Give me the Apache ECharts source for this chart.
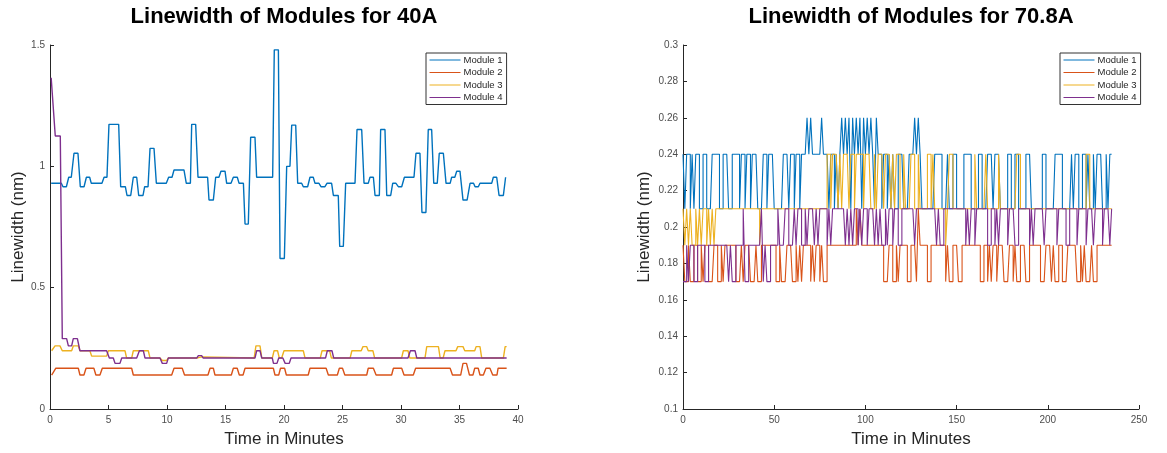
<!DOCTYPE html>
<html>
<head>
<meta charset="utf-8">
<script src="https://cdn.jsdelivr.net/npm/echarts@6/dist/echarts.min.js"></script>
<style>
html,body{margin:0;padding:0;background:#fff}
#chart{width:1167px;height:453px}
</style>
</head>
<body>
<div id="chart"></div>
<script>
var moduleNames = ['Module 1', 'Module 2', 'Module 3', 'Module 4'];
var moduleColors = ['#0072BD', '#D95319', '#EDB120', '#7E2F8E'];
var titles = ['Linewidth of Modules for 40A', 'Linewidth of Modules for 70.8A'];

// 40A run: [minute, linewidth nm] corner points
var m1_40 = [[0.1,0.93],[0.97,0.93],[1.11,0.916],[1.4,0.916],[1.6,0.955],[1.82,0.955],[2.05,1.054],[2.39,1.054],[2.59,0.916],[2.91,0.916],[3.11,0.955],[3.39,0.955],[3.53,0.93],[4.44,0.93],[4.62,0.955],[4.87,0.955],[5.04,1.173],[5.87,1.173],[6.04,0.916],[6.44,0.916],[6.58,0.88],[6.9,0.88],[7.12,0.955],[7.41,0.955],[7.58,0.88],[7.95,0.88],[8.09,0.916],[8.38,0.916],[8.55,1.074],[8.89,1.074],[9.09,0.93],[9.94,0.93],[10.14,0.955],[10.43,0.955],[10.6,0.985],[11.45,0.985],[11.65,0.93],[12.0,0.93],[12.11,1.173],[12.45,1.173],[12.65,0.955],[13.47,0.955],[13.59,0.861],[13.96,0.861],[14.16,0.955],[14.44,0.955],[14.61,0.98],[14.96,0.98],[15.1,0.93],[15.47,0.93],[15.67,0.955],[16.01,0.955],[16.16,0.93],[16.53,0.93],[16.67,0.762],[16.95,0.762],[17.15,1.12],[17.52,1.12],[17.66,0.955],[19.03,0.955],[19.17,1.48],[19.52,1.48],[19.66,0.62],[20.03,0.62],[20.23,1.0],[20.51,1.0],[20.66,1.17],[21.0,1.17],[21.17,0.93],[21.51,0.93],[21.65,0.916],[22.02,0.916],[22.22,0.955],[22.5,0.955],[22.65,0.93],[22.99,0.93],[23.16,0.916],[23.5,0.916],[23.67,0.93],[24.07,0.93],[24.22,0.88],[24.64,0.88],[24.76,0.67],[25.07,0.67],[25.27,0.93],[26.07,0.93],[26.24,1.152],[26.64,1.152],[26.84,0.93],[27.2,0.93],[27.35,0.955],[27.64,0.955],[27.78,0.88],[28.15,0.88],[28.26,1.152],[28.63,1.152],[28.78,0.88],[29.12,0.88],[29.29,0.93],[29.57,0.93],[29.77,0.916],[30.06,0.916],[30.29,0.955],[31.11,0.955],[31.28,1.054],[31.62,1.054],[31.79,0.81],[32.13,0.81],[32.33,1.152],[32.62,1.152],[32.8,0.93],[33.1,0.93],[33.27,1.054],[33.62,1.054],[33.85,0.93],[34.2,0.93],[34.33,0.955],[34.6,0.955],[34.76,0.98],[35.04,0.98],[35.3,0.861],[35.65,0.861],[35.9,0.93],[36.2,0.93],[36.33,0.916],[36.61,0.916],[36.75,0.93],[37.75,0.93],[37.89,0.955],[38.18,0.955],[38.38,0.88],[38.75,0.88],[38.94,0.955]];
var m2_40 = [[0.14,0.14],[0.3,0.14],[0.5,0.168],[2.42,0.168],[2.56,0.14],[2.9,0.14],[3.08,0.168],[3.75,0.168],[3.92,0.14],[4.27,0.14],[4.47,0.168],[6.98,0.168],[7.12,0.14],[10.4,0.14],[10.6,0.168],[11.3,0.168],[11.5,0.14],[13.5,0.14],[13.68,0.168],[13.96,0.168],[14.1,0.14],[15.5,0.14],[15.67,0.168],[16.0,0.168],[16.18,0.14],[16.5,0.14],[16.67,0.168],[19.09,0.168],[19.23,0.14],[19.55,0.14],[19.7,0.168],[20.05,0.168],[20.2,0.14],[22.07,0.14],[22.22,0.168],[23.6,0.168],[23.79,0.14],[24.56,0.14],[24.73,0.168],[25.0,0.168],[25.2,0.14],[27.07,0.14],[27.2,0.168],[27.64,0.168],[27.87,0.14],[29.2,0.14],[29.35,0.168],[30.06,0.168],[30.26,0.14],[31.05,0.14],[31.25,0.168],[34.2,0.168],[34.4,0.14],[35.1,0.14],[35.3,0.188],[35.6,0.188],[35.85,0.14],[36.15,0.14],[36.3,0.168],[36.6,0.168],[36.75,0.14],[37.04,0.14],[37.26,0.168],[37.6,0.168],[37.84,0.14],[38.2,0.14],[38.3,0.168],[39.03,0.168]];
var m3_40 = [[0.14,0.24],[0.43,0.26],[0.85,0.26],[1.05,0.24],[1.85,0.24],[1.99,0.26],[2.42,0.26],[2.56,0.24],[3.41,0.24],[3.56,0.218],[4.84,0.218],[4.99,0.24],[6.41,0.24],[6.55,0.21],[6.98,0.21],[7.12,0.24],[8.4,0.24],[8.55,0.21],[9.4,0.21],[9.6,0.2],[9.97,0.2],[10.11,0.21],[12.54,0.21],[12.68,0.215],[12.96,0.215],[13.1,0.21],[17.45,0.21],[17.6,0.26],[17.95,0.26],[18.1,0.21],[19.0,0.21],[19.15,0.24],[19.45,0.24],[19.6,0.21],[19.8,0.21],[20.0,0.24],[21.65,0.24],[21.8,0.21],[23.1,0.21],[23.25,0.24],[23.9,0.24],[24.05,0.21],[25.65,0.21],[25.8,0.24],[26.6,0.24],[26.75,0.257],[27.07,0.257],[27.2,0.24],[27.6,0.24],[27.75,0.21],[30.05,0.21],[30.2,0.24],[30.6,0.24],[30.75,0.21],[32.05,0.21],[32.2,0.257],[33.2,0.257],[33.35,0.21],[33.6,0.21],[33.76,0.24],[34.7,0.24],[34.85,0.257],[35.3,0.257],[35.45,0.24],[36.3,0.24],[36.42,0.257],[36.75,0.257],[36.9,0.21],[38.75,0.21],[38.9,0.257],[39.03,0.257]];
var m4_40 = [[0.1,1.365],[0.2,1.365],[0.45,1.125],[0.88,1.125],[1.05,0.29],[1.42,0.29],[1.57,0.26],[1.85,0.26],[1.99,0.29],[2.34,0.29],[2.56,0.24],[4.84,0.24],[5.07,0.21],[5.41,0.21],[5.56,0.188],[5.98,0.188],[6.13,0.21],[7.41,0.21],[7.64,0.24],[7.98,0.24],[8.12,0.21],[9.4,0.21],[9.6,0.188],[9.97,0.188],[10.11,0.21],[12.54,0.21],[12.68,0.22],[12.96,0.22],[13.1,0.21],[17.52,0.21],[17.66,0.24],[17.95,0.24],[18.1,0.21],[19.0,0.21],[19.1,0.188],[19.4,0.188],[19.55,0.21],[19.9,0.21],[20.1,0.188],[20.45,0.188],[20.6,0.21],[23.55,0.21],[23.7,0.24],[24.1,0.24],[24.25,0.21],[30.6,0.21],[30.8,0.24],[31.2,0.24],[31.35,0.21],[39.03,0.21]];

// 70.8A run: one reading per minute, starting at minute 0
var m1_708 = [
.24,.21,.24,.24,.21,.24,.21,.24,.24,.21, .21,.24,.24,.21,.21,.21,.24,.24,.24,.24,
.21,.21,.24,.24,.24,.21,.21,.24,.24,.24, .24,.21,.24,.24,.21,.24,.24,.21,.24,.24,
.24,.21,.21,.21,.24,.24,.21,.24,.24,.24, .21,.21,.21,.21,.21,.24,.24,.24,.21,.24,
.24,.21,.24,.24,.21,.24,.24,.24,.26,.24, .26,.24,.24,.24,.24,.24,.26,.24,.24,.24,
.21,.24,.24,.21,.24,.21,.24,.26,.24,.26, .24,.26,.21,.26,.24,.26,.24,.26,.21,.26,
.24,.26,.24,.26,.24,.21,.26,.24,.24,.21, .24,.24,.21,.24,.21,.24,.21,.21,.24,.24,
.24,.21,.21,.21,.24,.24,.24,.26,.24,.26, .24,.21,.21,.21,.21,.21,.21,.21,.24,.24,
.24,.24,.21,.21,.21,.24,.21,.21,.24,.24, .21,.21,.21,.21,.24,.24,.24,.24,.21,.21,
.21,.21,.24,.24,.21,.21,.21,.24,.24,.24, .21,.24,.24,.24,.21,.21,.21,.21,.24,.24,
.21,.21,.24,.24,.21,.21,.21,.21,.24,.24, .24,.21,.21,.21,.21,.21,.21,.24,.24,.21,
.21,.21,.21,.21,.24,.24,.24,.24,.21,.21, .21,.21,.21,.24,.21,.24,.24,.21,.21,.24,
.24,.21,.24,.21,.21,.24,.21,.24,.24,.24, .21,.21,.24,.21,.24,.24];
var m2_708 = [
.19,.17,.17,.19,.17,.17,.19,.19,.17,.17, .19,.17,.19,.19,.17,.17,.17,.19,.19,.17,
.17,.19,.17,.19,.19,.19,.19,.19,.19,.17, .17,.17,.19,.17,.19,.19,.19,.17,.17,.17,
.19,.17,.17,.19,.19,.19,.19,.19,.19,.19, .19,.17,.17,.19,.17,.17,.17,.19,.19,.19,
.17,.17,.19,.17,.19,.17,.19,.19,.19,.19, .17,.19,.17,.19,.19,.17,.19,.17,.17,.19,
.19,.19,.19,.19,.19,.19,.19,.19,.19,.19, .19,.19,.19,.19,.19,.21,.19,.21,.19,.19,
.19,.19,.19,.19,.19,.19,.19,.19,.19,.19, .17,.17,.17,.19,.19,.17,.17,.19,.17,.19,
.19,.19,.19,.17,.17,.19,.19,.19,.17,.21, .19,.19,.19,.19,.17,.17,.19,.19,.19,.19,
.19,.19,.19,.19,.17,.19,.17,.17,.19,.19, .19,.17,.17,.19,.19,.19,.19,.19,.19,.19,
.19,.19,.19,.17,.17,.19,.19,.17,.19,.17, .19,.19,.17,.19,.19,.19,.17,.17,.17,.19,
.19,.17,.19,.17,.17,.19,.19,.19,.17,.17, .19,.19,.19,.19,.19,.19,.17,.17,.17,.19,
.19,.19,.17,.19,.17,.17,.19,.19,.17,.17, .17,.19,.19,.19,.19,.19,.17,.17,.19,.17,
.19,.17,.17,.17,.19,.17,.17,.19,.19,.19, .19,.19,.19,.19,.19,.19];
var m3_708 = [
.21,.19,.21,.19,.21,.19,.19,.21,.19,.21, .19,.21,.21,.19,.21,.19,.21,.19,.21,.21,
.21,.21,.21,.21,.21,.21,.21,.21,.21,.21, .21,.21,.21,.21,.21,.21,.21,.21,.21,.21,
.21,.21,.19,.21,.21,.21,.21,.21,.21,.21, .21,.21,.21,.21,.21,.21,.21,.21,.21,.21,
.21,.21,.21,.21,.21,.21,.21,.21,.21,.21, .21,.21,.21,.21,.21,.21,.21,.21,.21,.24,
.24,.21,.24,.24,.24,.21,.24,.21,.24,.24, .24,.21,.24,.24,.21,.24,.24,.24,.24,.21,
.24,.24,.24,.21,.21,.24,.21,.24,.24,.24, .21,.24,.24,.24,.21,.24,.21,.24,.24,.21,
.21,.24,.21,.21,.21,.24,.24,.21,.21,.24, .21,.21,.21,.21,.24,.24,.21,.24,.21,.21,
.21,.21,.21,.21,.19,.21,.24,.24,.21,.21, .21,.21,.21,.21,.21,.21,.21,.21,.21,.21,
.24,.21,.21,.21,.21,.21,.24,.21,.21,.21, .21,.21,.21,.24,.21,.21,.21,.21,.21,.21,
.21,.21,.21,.24,.24,.21,.21,.21,.21,.21, .21,.21,.21,.21,.21,.21,.21,.21,.21,.21,
.21,.21,.21,.21,.21,.21,.21,.21,.21,.21, .21,.21,.21,.21,.21,.21,.21,.21,.21,.21,
.21,.24,.24,.21,.21,.21,.21,.21,.21,.21, .21,.21,.21,.21,.21,.21];
var m4_708 = [
.17,.17,.19,.17,.19,.19,.17,.17,.19,.19, .19,.19,.17,.17,.19,.19,.19,.19,.19,.19,
.19,.19,.19,.19,.19,.17,.19,.17,.17,.19, .19,.19,.19,.21,.17,.17,.19,.19,.19,.19,
.19,.19,.19,.21,.17,.19,.17,.17,.19,.19, .19,.19,.21,.19,.19,.19,.21,.21,.19,.19,
.19,.21,.19,.21,.21,.19,.19,.21,.19,.21, .21,.21,.19,.21,.19,.21,.21,.21,.21,.19,
.21,.19,.21,.21,.21,.21,.21,.21,.21,.19, .21,.19,.21,.19,.21,.21,.19,.21,.19,.21,
.21,.19,.21,.21,.21,.19,.21,.19,.21,.19, .19,.21,.19,.21,.21,.19,.21,.21,.19,.19,
.21,.21,.21,.21,.21,.21,.21,.19,.21,.21, .21,.21,.21,.21,.21,.21,.21,.21,.21,.19,
.21,.19,.19,.21,.21,.21,.21,.21,.21,.21, .21,.21,.21,.21,.21,.19,.21,.19,.21,.21,
.19,.21,.21,.21,.21,.21,.21,.19,.19,.21, .21,.19,.21,.19,.21,.21,.21,.21,.19,.21,
.21,.21,.19,.19,.21,.21,.21,.21,.21,.21, .19,.21,.19,.21,.21,.21,.21,.21,.19,.21,
.21,.21,.21,.21,.21,.19,.21,.21,.21,.21, .19,.19,.21,.21,.21,.21,.19,.21,.21,.21,
.21,.19,.21,.21,.21,.19,.21,.21,.21,.21, .19,.21,.21,.21,.19,.21];

var leftTicks = [0, 0.5, 1, 1.5];
var rightTicks = [0.1, 0.12, 0.14, 0.16, 0.18, 0.2, 0.22, 0.24, 0.26, 0.28, 0.3];

function perMinute(arr) {
    return arr.map(function (v, i) { return [i, v]; });
}

var chart = echarts.init(document.getElementById('chart'));
var font = '"Liberation Sans", Arial, Helvetica, sans-serif';

function axisBase() {
    return {
        axisLine: { show: true, lineStyle: { color: '#262626', width: 1 } },
        axisTick: { show: true, inside: true, length: 4, lineStyle: { color: '#262626' } },
        axisLabel: { color: '#4d4d4d', fontSize: 10, fontFamily: font, margin: 6 },
        splitLine: { show: false },
        nameTextStyle: { color: '#262626', fontSize: 17, fontFamily: font },
        nameLocation: 'middle'
    };
}

var xLeft = Object.assign(axisBase(), { type: 'value', gridIndex: 0, min: 0, max: 40, interval: 5, name: 'Time in Minutes', nameGap: 22 });
var xRight = Object.assign(axisBase(), { type: 'value', gridIndex: 1, min: 0, max: 250, interval: 50, name: 'Time in Minutes', nameGap: 22 });
var yLeft = Object.assign(axisBase(), { type: 'value', gridIndex: 0, min: leftTicks[0], max: leftTicks[leftTicks.length - 1], interval: 0.5, name: 'Linewidth (nm)', nameGap: 23 });
var yRight = Object.assign(axisBase(), { type: 'value', gridIndex: 1, min: rightTicks[0], max: rightTicks[rightTicks.length - 1], interval: 0.02, name: 'Linewidth (nm)', nameGap: 30 });
yLeft.axisLabel.margin = 5;
yRight.axisLabel.margin = 5;
yRight.axisLabel.formatter = function (v) { return String(+v.toFixed(2)); };

var leftData = [m1_40, m2_40, m3_40, m4_40];
var rightData = [m1_708, m2_708, m3_708, m4_708];
var series = [];
moduleNames.forEach(function (name, i) {
    series.push({
        name: name, type: 'line', xAxisIndex: 0, yAxisIndex: 0,
        data: leftData[i], symbol: 'none', animation: false,
        lineStyle: { color: moduleColors[i], width: 1.4 },
        itemStyle: { color: moduleColors[i] }
    });
});
moduleNames.forEach(function (name, i) {
    series.push({
        name: name, type: 'line', xAxisIndex: 1, yAxisIndex: 1,
        data: perMinute(rightData[i]), symbol: 'none', animation: false, step: 'end',
        lineStyle: { color: moduleColors[i], width: 1.1 },
        itemStyle: { color: moduleColors[i] }
    });
});

function legendAt(left) {
    return {
        data: moduleNames, orient: 'vertical', left: left, top: 53,
        itemWidth: 31, itemHeight: 10, itemGap: 2.5,
        padding: [2, 4, 2, 3],
        backgroundColor: '#fff', borderColor: '#333', borderWidth: 1,
        selectedMode: false,
        itemStyle: { opacity: 0, borderWidth: 0 },
        lineStyle: { width: 1, opacity: 1 },
        textStyle: { fontSize: 9.5, color: '#262626', fontFamily: font, padding: [0, 0, 0, -2] }
    };
}

chart.setOption({
    animation: false,
    grid: [
        { left: 50, top: 45, width: 468, height: 364 },
        { left: 683, top: 45, width: 456, height: 365 }
    ],
    xAxis: [xLeft, xRight],
    yAxis: [yLeft, yRight],
    legend: [legendAt(426), legendAt(1060)],
    graphic: [
        { type: 'text', x: 284, y: 6, style: { text: titles[0], textAlign: 'center', fill: '#000', font: 'bold 22px ' + font } },
        { type: 'text', x: 911, y: 6, style: { text: titles[1], textAlign: 'center', fill: '#000', font: 'bold 22px ' + font } }
    ],
    series: series
});
</script>
</body>
</html>
